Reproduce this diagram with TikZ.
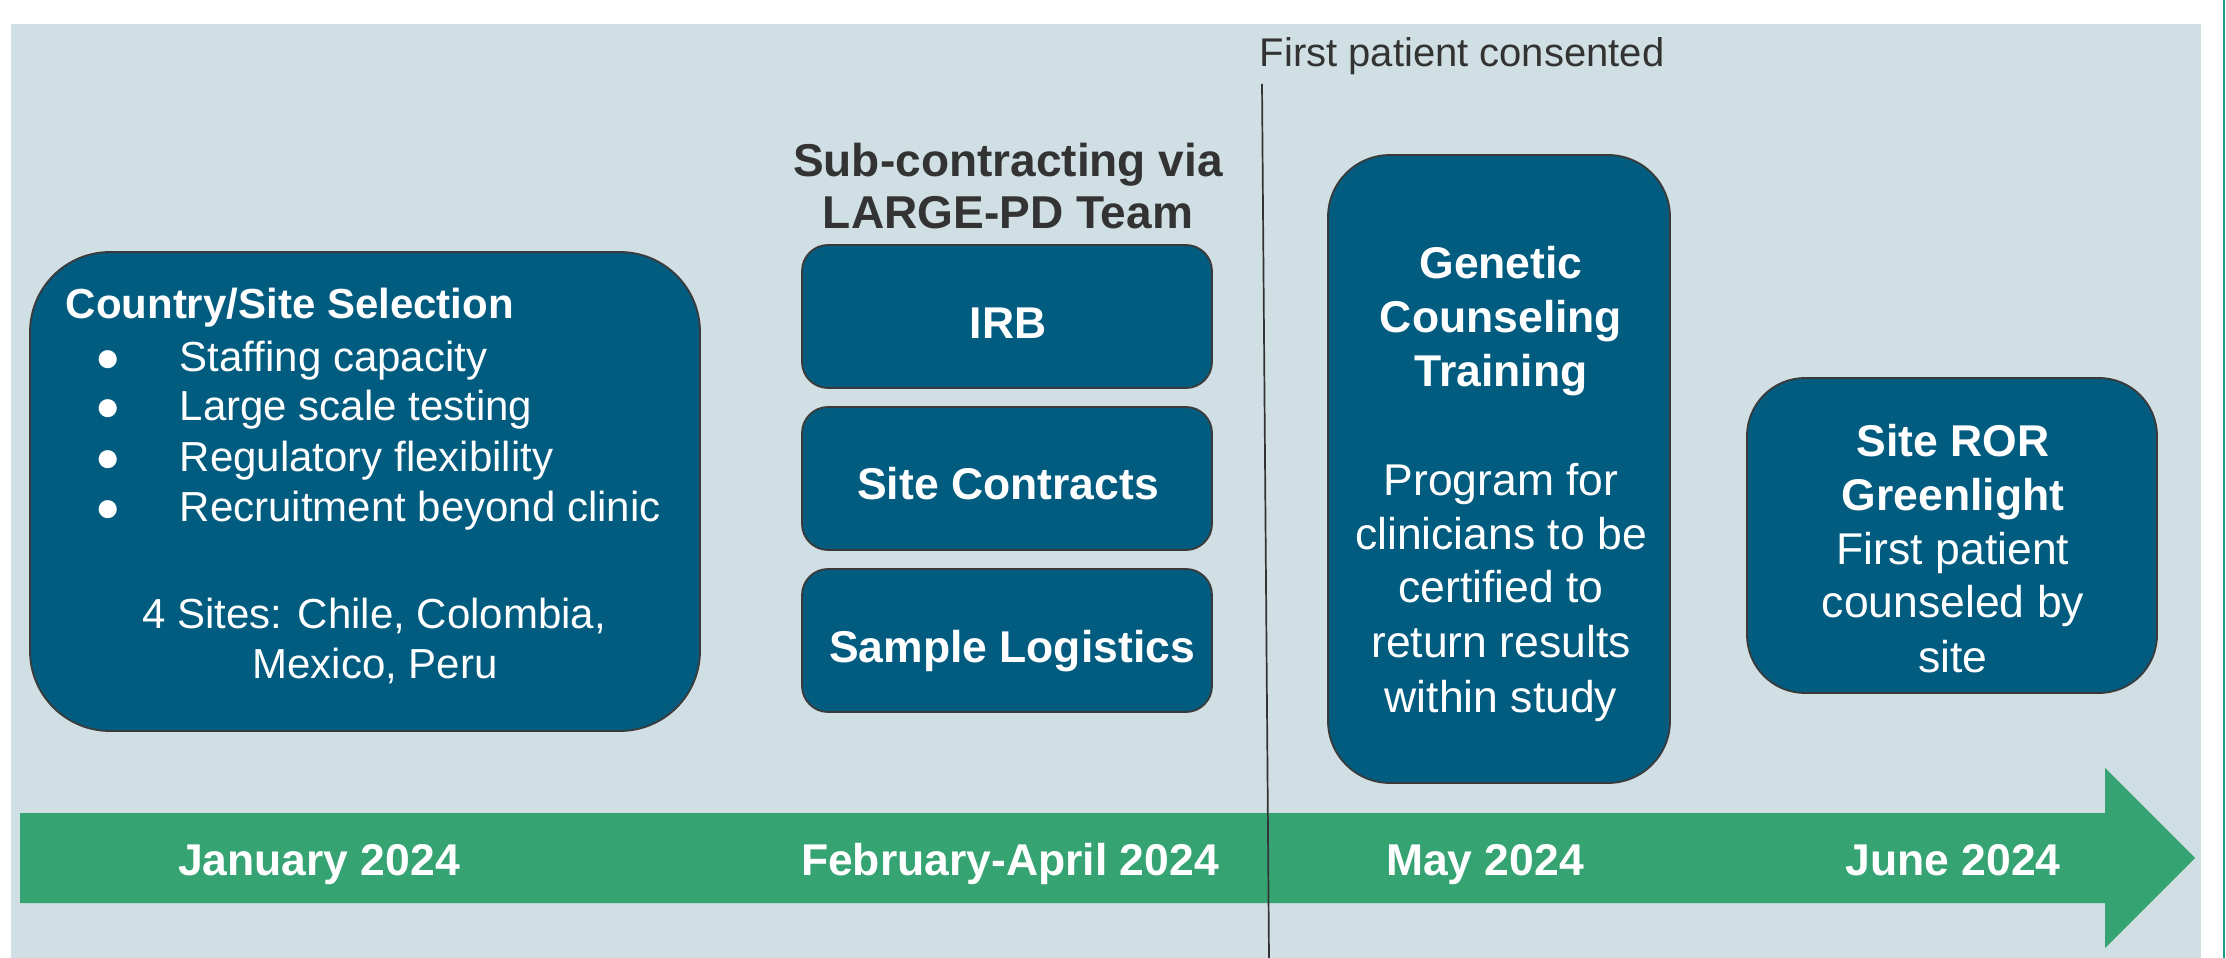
\documentclass[tikz,border=0pt]{standalone}
\usepackage{fontspec}
\setmainfont{Liberation Sans}
\definecolor{bgblue}{HTML}{D0DFE3}
\definecolor{boxblue}{HTML}{025C80}
\definecolor{tlgreen}{HTML}{35A372}
\definecolor{inkgray}{HTML}{333333}
\definecolor{edgegray}{HTML}{3A3A3A}
\definecolor{rimteal}{HTML}{1F9A8A}
\begin{document}
\begin{tikzpicture}[x=0.1mm, y=-0.1mm,
  panel/.style={draw=edgegray, line width=0.18mm, fill=boxblue, inner sep=0pt},
  txt/.style={text=white, inner sep=0pt, anchor=base, font=\fontsize{12.66}{15}\selectfont},
  txtb/.style={txt, font=\fontsize{12.66}{15}\selectfont\bfseries},
  ctxt/.style={text=white, inner sep=0pt, anchor=base west, font=\fontsize{11.95}{14}\selectfont},
  ctxtb/.style={ctxt, font=\fontsize{11.95}{14}\selectfont\bfseries},
  bul/.style={text=white, inner sep=0pt, anchor=base, font=\fontsize{11.95}{14}\selectfont},
  gray/.style={text=inkgray, inner sep=0pt, anchor=base},
  date/.style={text=white, inner sep=0pt, anchor=base, font=\fontsize{12.66}{15}\selectfont\bfseries}
]
% canvas
\useasboundingbox (0,0) rectangle (2226,958);
\fill[bgblue] (11,24) rectangle (2201,958);
\draw[rimteal, line width=0.15mm] (2224,0) -- (2224,958);

% timeline arrow
\fill[tlgreen] (20,813) -- (2105,813) -- (2105,768) -- (2195,858)
  -- (2105,948) -- (2105,903) -- (20,903) -- cycle;
\node[date] (jan) at (319,875) {January 2024};
\node[date] (feb) at (1010,875) {February-April 2024};
\node[date] (may) at (1485,875) {May 2024};
\node[date] (jun) at (1953,875) {June 2024};

% milestone marker
\node[gray, anchor=base west, font=\fontsize{11.38}{14}\selectfont] (consent) at (1259,67) {First patient consented};
\coordinate (mtop) at (1262,84);
\coordinate (mbot) at (1269,958);
\draw[inkgray, line width=0.17mm] (mtop) -- (mbot);

% country / site selection
\node[panel, rounded corners=8mm, minimum width=67mm, minimum height=47.9mm] (country) at (365,491.5) {};
\node[ctxtb] (ctitle) at (65,319) {Country/Site Selection};
\node[bul] (b1) at (108,372) {●};
\node[bul] (b2) at (108,421) {●};
\node[bul] (b3) at (108,472) {●};
\node[bul] (b4) at (108,522) {●};
\node[ctxt] (i1) at (179,372) {Staffing capacity};
\node[ctxt] (i2) at (179,421) {Large scale testing};
\node[ctxt] (i3) at (179,472) {Regulatory flexibility};
\node[ctxt] (i4) at (179,522) {Recruitment beyond clinic};
\node[ctxt, anchor=base] (s1) at (374,628) {4 Sites: Chile, Colombia,};
\node[ctxt, anchor=base] (s2) at (375,678) {Mexico, Peru};

% sub-contracting group
\node[gray, font=\fontsize{13.1}{15}\selectfont\bfseries] (sub1) at (1008,177) {Sub-contracting via};
\node[gray, font=\fontsize{13.1}{15}\selectfont\bfseries] (sub2) at (1008,229) {LARGE-PD Team};
\node[panel, rounded corners=2.6mm, minimum width=41mm, minimum height=14.3mm] (irb) at (1007,316.5) {};
\node[panel, rounded corners=2.6mm, minimum width=41mm, minimum height=14.3mm] (contracts) at (1007,478.5) {};
\node[panel, rounded corners=2.6mm, minimum width=41mm, minimum height=14.3mm] (logistics) at (1007,640.5) {};
\node[txtb] (irbt) at (1008,339) {IRB};
\node[txtb] (cont) at (1008,500) {Site Contracts};
\node[txtb] (logt) at (1012,662) {Sample Logistics};

% genetic counseling training
\node[panel, rounded corners=6.2mm, minimum width=34.2mm, minimum height=62.8mm] (gct) at (1499,469) {};
\node[txtb] (g1) at (1501,279) {Genetic};
\node[txtb] (g2) at (1501,333) {Counseling};
\node[txtb] (g3) at (1501,387) {Training};
\node[txt] (g4) at (1501,496) {Program for};
\node[txt] (g5) at (1501,549) {clinicians to be};
\node[txt] (g6) at (1501,603) {certified to};
\node[txt] (g7) at (1501,657) {return results};
\node[txt] (g8) at (1501,712) {within study};

% site ROR greenlight
\node[panel, rounded corners=5.8mm, minimum width=41mm, minimum height=31.5mm] (ror) at (1952,535.5) {};
\node[txtb] (r1) at (1953,457) {Site ROR};
\node[txtb] (r2) at (1953,511) {Greenlight};
\node[txt] (r3) at (1953,565) {First patient};
\node[txt] (r4) at (1953,618) {counseled by};
\node[txt] (r5) at (1953,672) {site};
\end{tikzpicture}
\end{document}
